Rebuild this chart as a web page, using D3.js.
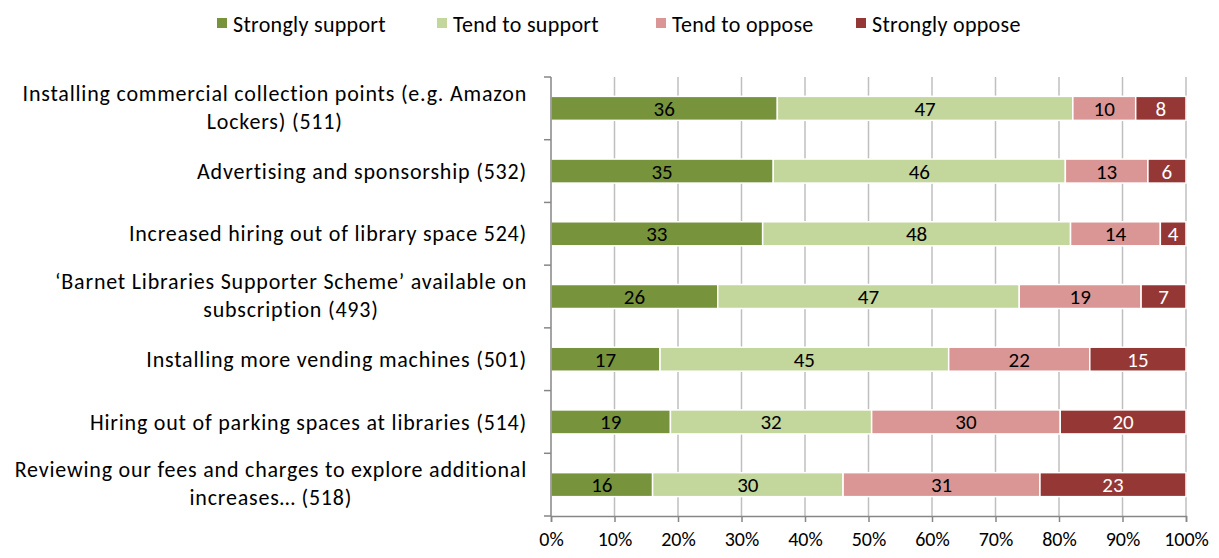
<!DOCTYPE html>
<html><head><meta charset="utf-8">
<script src="https://cdn.jsdelivr.net/npm/d3@7"></script>
<style>
body{margin:0;background:#fff;}
svg{display:block;font-family:Carlito,Calibri,Lato,"Open Sans",sans-serif;}
</style></head>
<body><svg id="c" width="1219" height="558"></svg>
<script>
const categories = [
  ["Installing commercial collection points (e.g. Amazon","Lockers) (511)"],
  ["Advertising and sponsorship (532)"],
  ["Increased hiring out of library space 524)"],
  ["\u2018Barnet Libraries Supporter Scheme\u2019 available on","subscription (493)"],
  ["Installing more vending machines (501)"],
  ["Hiring out of parking spaces at libraries (514)"],
  ["Reviewing our fees and charges to explore additional","increases\u2026 (518)"]
];
const seriesNames = ["Strongly support","Tend to support","Tend to oppose","Strongly oppose"];
const stronglySupport = [36,35,33,26,17,19,16];
const tendSupport     = [47,46,48,47,45,32,30];
const tendOppose      = [10,13,14,19,22,30,31];
const stronglyOppose  = [8,6,4,7,15,20,23];
const colors = ["#77933C","#C3D69B","#D99694","#953735"];
const labelColors = ["#000","#000","#000","#fff"];
const xTicks = [0,0.1,0.2,0.3,0.4,0.5,0.6,0.7,0.8,0.9,1];

const svg = d3.select("#c");
const FS = 20, LFS = 22;
const m = {left:551, right:1186, top:77, bottom:516};
const rows = categories.map((c,i)=>({i, vals:[stronglySupport[i],tendSupport[i],tendOppose[i],stronglyOppose[i]]}));
rows.forEach(r=>{
  const tot = d3.sum(r.vals); let acc=0;
  r.segs = r.vals.map((v,k)=>{const s={k,v,x0:acc/tot,x1:(acc+v)/tot}; acc+=v; return s;});
});
const x = d3.scaleLinear().domain([0,1]).range([m.left,m.right]);
const y = d3.scaleBand().domain(d3.range(categories.length)).range([m.top,m.bottom]).padding(0);
const barH = 24;

// gridlines
svg.append("g").selectAll("line").data(xTicks.slice(1)).join("line")
  .attr("x1",d=>x(d)).attr("x2",d=>x(d)).attr("y1",m.top).attr("y2",m.bottom)
  .attr("stroke","#BFBFBF").attr("stroke-width",1.5);

// bars
const g = svg.append("g");
rows.forEach(r=>{
  const cy = y(r.i)+y.bandwidth()/2;
  const gg = g.append("g");
  gg.selectAll("rect").data(r.segs).join("rect")
    .attr("x",d=>x(d.x0)).attr("width",d=>x(d.x1)-x(d.x0))
    .attr("y",cy-barH/2).attr("height",barH)
    .attr("fill",d=>colors[d.k]).attr("stroke","#fff").attr("stroke-width",1.5);
  gg.selectAll("text").data(r.segs).join("text")
    .attr("x",d=>(x(d.x0)+x(d.x1))/2).attr("y",cy).attr("dy","0.36em")
    .attr("text-anchor","middle").attr("font-size",21).attr("fill",d=>labelColors[d.k])
    .text(d=>d.v);
});

// y axis
const ya = svg.append("g");
ya.append("line").attr("x1",m.left).attr("x2",m.left).attr("y1",m.top).attr("y2",m.bottom)
  .attr("stroke","#868686").attr("stroke-width",1.5);
ya.selectAll("line.t").data(d3.range(categories.length+1)).join("line").attr("class","t")
  .attr("x1",m.left-7).attr("x2",m.left).attr("y1",d=>m.top+d*y.step()).attr("y2",d=>m.top+d*y.step())
  .attr("stroke","#868686").attr("stroke-width",1.5);

// category labels
categories.forEach((lines,i)=>{
  const cy = y(i)+y.bandwidth()/2;
  const t = svg.append("text").attr("font-size",LFS).attr("fill","#000").attr("letter-spacing","0.8px");
  const lh = 28;
  const tmp = lines.map(l=>t.append("tspan").text(l));
  const widths = tmp.map(s=>s.node().getComputedTextLength());
  const maxW = d3.max(widths);
  const right = 527;
  const center = right - maxW/2;
  const off = lines.length>1 ? -1.5 : 0;
  tmp.forEach((s,j)=>{
    s.attr("x",center).attr("y",cy+off+(j-(lines.length-1)/2)*lh).attr("dy","0.35em").attr("text-anchor","middle");
  });
});

// x axis
const xa = svg.append("g").attr("transform",`translate(0,${m.bottom})`)
  .call(d3.axisBottom(x).tickValues(xTicks).tickFormat(d3.format(".0%")).tickSize(6).tickPadding(10));
xa.attr("font-family",null);
xa.select(".domain").attr("stroke","#868686").attr("stroke-width",1.5);
xa.selectAll(".tick line").attr("stroke","#868686").attr("stroke-width",1.5);
xa.selectAll(".tick text").attr("font-size",FS).attr("fill","#000");

// legend
const legX = [217,437,656,856];
const lg = svg.append("g");
seriesNames.forEach((n,k)=>{
  lg.append("rect").attr("x",legX[k]).attr("y",18).attr("width",10).attr("height",10).attr("fill",colors[k]);
  lg.append("text").attr("x",legX[k]+16).attr("y",24).attr("dy","0.35em").attr("font-size",LFS)
    .attr("letter-spacing","0.3px").attr("fill","#000").text(n);
});
</script></body></html>
